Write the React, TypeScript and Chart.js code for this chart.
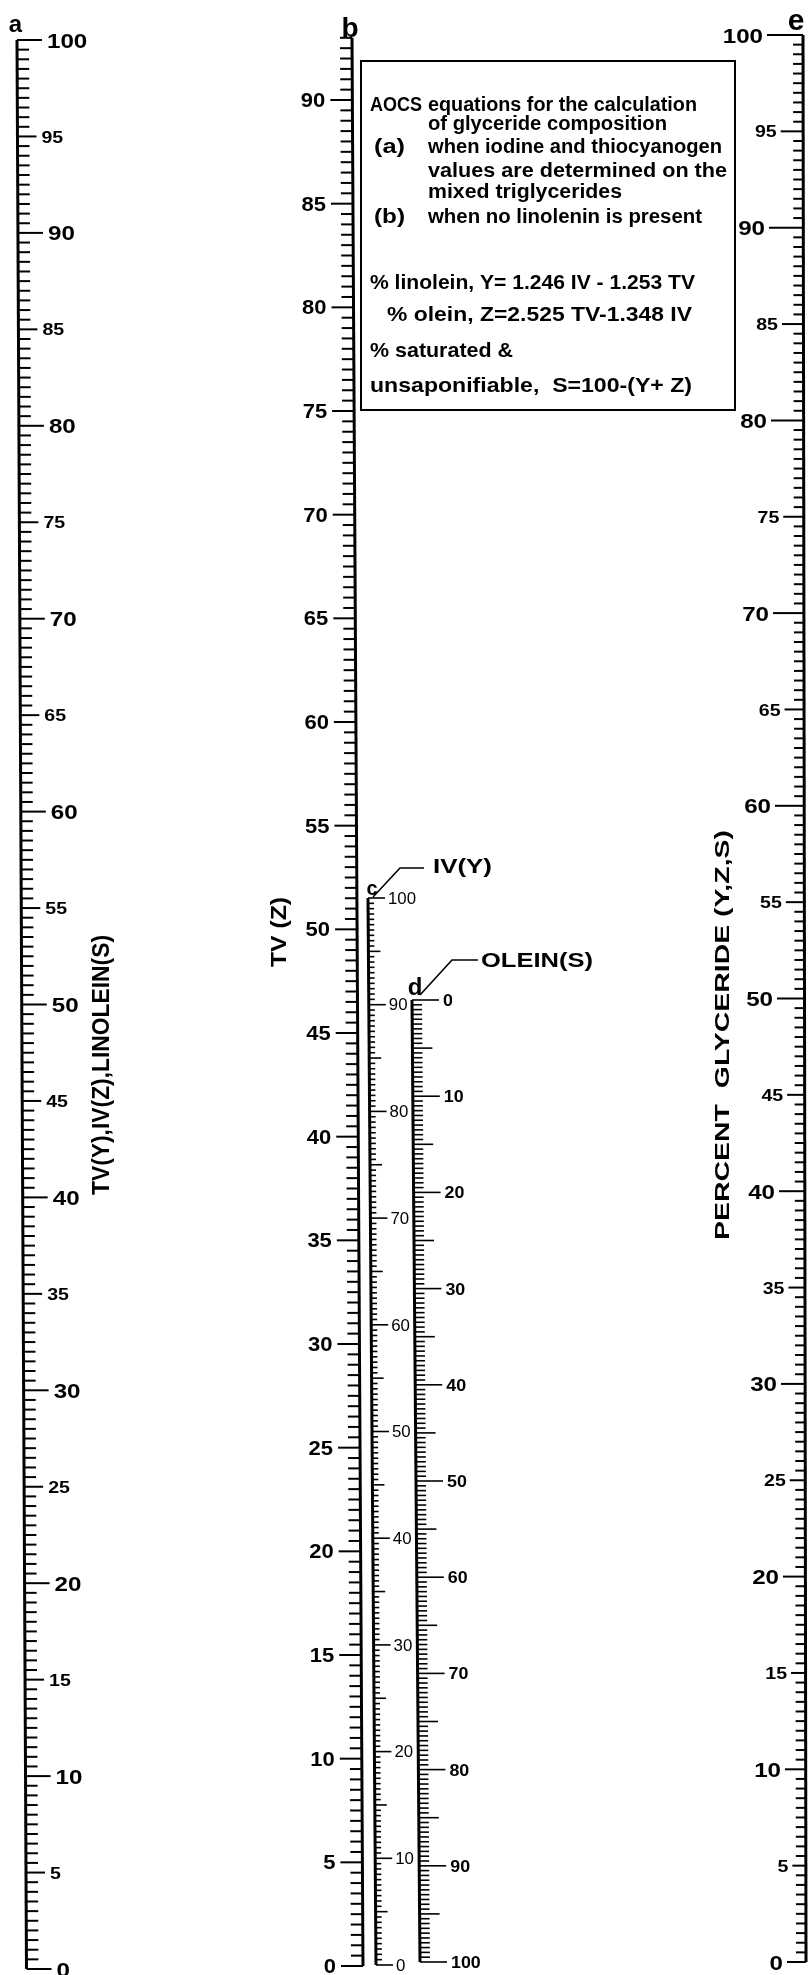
import { useEffect, useRef } from "react";
import { Chart, registerables } from "chart.js";

Chart.register(...registerables);

const W = 809;
const H = 1975;
const FONT = "'Liberation Sans', 'DejaVu Sans', sans-serif";

// ---------------- values ----------------
const A_RANGE = [0, 100];
const B_RANGE = [0, 93];
const C_RANGE = [0, 100];
const D_RANGE = [0, 100];
const E_RANGE = [0, 100];
const MINOR_STEP = 0.5;

const A_TICK_LABELS = [0, 5, 10, 15, 20, 25, 30, 35, 40, 45, 50, 55, 60, 65, 70, 75, 80, 85, 90, 95, 100];
const B_TICK_LABELS = [0, 5, 10, 15, 20, 25, 30, 35, 40, 45, 50, 55, 60, 65, 70, 75, 80, 85, 90];
const C_TICK_LABELS = [0, 10, 20, 30, 40, 50, 60, 70, 80, 90, 100];
const D_TICK_LABELS = [0, 10, 20, 30, 40, 50, 60, 70, 80, 90, 100];
const E_TICK_LABELS = [0, 5, 10, 15, 20, 25, 30, 35, 40, 45, 50, 55, 60, 65, 70, 75, 80, 85, 90, 95, 100];

const AXIS_LETTERS = ["a", "b", "c", "d", "e"];
const A_TITLE = "TV(Y),IV(Z),LINOLEIN(S)";
const B_TITLE = "TV (Z)";
const C_TITLE = "IV(Y)";
const D_TITLE = "OLEIN(S)";
const E_TITLE = "PERCENT  GLYCERIDE (Y,Z,S)";

const BOX_LINES = [
  "AOCS",
  "equations for the calculation",
  "of glyceride composition",
  "(a)",
  "when iodine and thiocyanogen",
  "values are determined on the",
  "mixed triglycerides",
  "(b)",
  "when no linolenin is present",
  "% linolein, Y= 1.246 IV - 1.253 TV",
  "% olein, Z=2.525 TV-1.348 IV",
  "% saturated &",
  "unsaponifiable,  S=100-(Y+ Z)",
];

// ---------------- layout (positions / styles) ----------------
type Len = number | [number, number];
interface AxisLayout {
  id: string;
  range: number[];
  labels: number[];
  anchor: [number, number, number, number]; // value0, pixel0, value1, pixel1
  line: [number, number, number, number]; // xTop, yTop, xBot, yBot
  dir: 1 | -1;
  minor: Len;
  five: Len;
  ten: Len;
  gap: number;
  big: number;
  small: number;
  weight: string;
  sx: number;
  lineW: number;
  tickW: number;
}

const AXES: AxisLayout[] = [
  {
    id: "ya", range: A_RANGE, labels: A_TICK_LABELS, anchor: [100, 40, 0, 1969],
    line: [17, 40, 26.5, 1969], dir: 1, minor: 12, five: 19, ten: 25, gap: 5,
    big: 21, small: 17, weight: "bold", sx: 1.15, lineW: 3, tickW: 2,
  },
  {
    id: "yb", range: B_RANGE, labels: B_TICK_LABELS, anchor: [90, 100, 0, 1966],
    line: [352, 40, 363, 1966], dir: -1, minor: 12, five: 22, ten: 22, gap: 5,
    big: 20, small: 20, weight: "bold", sx: 1.1, lineW: 3, tickW: 2,
  },
  {
    id: "yc", range: C_RANGE, labels: C_TICK_LABELS, anchor: [100, 898, 0, 1965],
    line: [368, 898, 376, 1965], dir: 1, minor: 6, five: 12, ten: 17, gap: 3,
    big: 16, small: 16, weight: "normal", sx: 1.05, lineW: 3, tickW: 1.6,
  },
  {
    id: "yd", range: D_RANGE, labels: D_TICK_LABELS, anchor: [0, 1000, 100, 1962],
    line: [412, 1000, 420, 1962], dir: 1, minor: 10, five: 20, ten: 27, gap: 4,
    big: 17, small: 17, weight: "bold", sx: 1.05, lineW: 3, tickW: 1.6,
  },
  {
    id: "ye", range: E_RANGE, labels: E_TICK_LABELS, anchor: [100, 35, 0, 1962],
    line: [803, 35, 806, 1962], dir: -1, minor: 10, five: [23, 13], ten: [36, 19], gap: 4,
    big: 21, small: 17, weight: "bold", sx: 1.15, lineW: 3, tickW: 2,
  },
];

// x, baseline, width, font size, weight
const BOX_LAYOUT: [number, number, number, number, string][] = [
  [370, 111, 52, 21, "bold"],
  [428, 111, 269, 20, "bold"],
  [428, 130, 239, 20, "bold"],
  [374, 153, 31, 20, "bold"],
  [428, 153, 294, 20, "bold"],
  [428, 177, 299, 20, "bold"],
  [428, 198, 194, 20, "bold"],
  [374, 223, 31, 20, "bold"],
  [428, 223, 274, 20, "bold"],
  [370, 289, 325, 21, "bold"],
  [387, 321, 305, 21, "bold"],
  [370, 357, 143, 21, "bold"],
  [370, 392, 322, 21, "bold"],
];
const BOX_RECT = [361, 61, 735, 410];

// letter: x center, baseline, size
const LETTER_LAYOUT: [number, number, number][] = [
  [15.5, 32, 24],
  [350, 37, 28],
  [372, 895, 20],
  [415, 995, 24],
  [796, 30, 30],
];

function lenAt(l: Len, t: number): number {
  if (typeof l === "number") return l;
  return l[0] + (l[1] - l[0]) * t;
}

function valueToPixel(ax: AxisLayout, v: number): number {
  const [v0, p0, v1, p1] = ax.anchor;
  return p0 + ((v - v0) * (p1 - p0)) / (v1 - v0);
}

function xOnLine(ax: AxisLayout, py: number): [number, number] {
  const [xt, yt, xb, yb] = ax.line;
  const t = (py - yt) / (yb - yt);
  return [xt + (xb - xt) * t, t];
}

function drawText(
  ctx: CanvasRenderingContext2D, text: string, x: number, baseline: number,
  size: number, weight: string, align: CanvasTextAlign, sx = 1
) {
  ctx.save();
  ctx.font = `${weight} ${size}px ${FONT}`;
  ctx.textAlign = align;
  ctx.textBaseline = "alphabetic";
  ctx.translate(x, baseline);
  ctx.scale(sx, 1);
  ctx.fillText(text, 0, 0);
  ctx.restore();
}

function drawFit(
  ctx: CanvasRenderingContext2D, text: string, x: number, baseline: number,
  width: number, size: number, weight: string, align: CanvasTextAlign = "left"
) {
  ctx.save();
  ctx.font = `${weight} ${size}px ${FONT}`;
  const m = ctx.measureText(text).width;
  ctx.restore();
  drawText(ctx, text, x, baseline, size, weight, align, width / m);
}

function drawRotated(
  ctx: CanvasRenderingContext2D, text: string, cx: number, cy: number,
  length: number, size: number
) {
  ctx.save();
  ctx.translate(cx, cy);
  ctx.rotate(-Math.PI / 2);
  ctx.font = `bold ${size}px ${FONT}`;
  const m = ctx.measureText(text).width;
  ctx.scale(length / m, 1);
  ctx.textAlign = "center";
  ctx.textBaseline = "middle";
  ctx.fillText(text, 0, 0);
  ctx.restore();
}

const nomogramPlugin = {
  id: "nomogram",
  afterDatasetsDraw(chart: any) {
    const ctx: CanvasRenderingContext2D = chart.ctx;
    ctx.save();
    ctx.fillStyle = "#000";
    ctx.strokeStyle = "#000";
    ctx.lineCap = "butt";

    for (const ax of AXES) {
      const scale = chart.scales[ax.id];
      const n0 = Math.round(ax.range[0] / MINOR_STEP);
      const n1 = Math.round(ax.range[1] / MINOR_STEP);
      ctx.lineWidth = ax.tickW;
      for (let i = n0; i <= n1; i++) {
        const v = i * MINOR_STEP;
        const py = scale.getPixelForValue(v);
        const [px, t] = xOnLine(ax, py);
        const kind = v % 10 === 0 ? ax.ten : v % 5 === 0 ? ax.five : ax.minor;
        const len = lenAt(kind, t);
        ctx.beginPath();
        ctx.moveTo(px, py);
        ctx.lineTo(px + ax.dir * len, py);
        ctx.stroke();
      }
      for (const v of ax.labels) {
        const py = scale.getPixelForValue(v);
        const [px, t] = xOnLine(ax, py);
        const kind = v % 10 === 0 ? ax.ten : v % 5 === 0 ? ax.five : ax.minor;
        const len = lenAt(kind, t);
        const size = v % 10 === 0 ? ax.big : ax.small;
        const lx = px + ax.dir * (len + ax.gap);
        drawText(ctx, String(v), lx, py + 0.358 * size, size, ax.weight,
          ax.dir > 0 ? "left" : "right", ax.sx);
      }
    }

    // axis letters
    AXIS_LETTERS.forEach((l, i) => {
      const [x, b, s] = LETTER_LAYOUT[i];
      drawText(ctx, l, x, b, s, "bold", "center");
    });

    // axis titles
    drawRotated(ctx, A_TITLE, 103, 1065, 260, 23);
    drawRotated(ctx, B_TITLE, 280, 932, 70, 22);
    drawRotated(ctx, E_TITLE, 723, 1035, 410, 21);

    // leader lines for c and d
    ctx.lineWidth = 1.6;
    ctx.beginPath();
    ctx.moveTo(373, 897); ctx.lineTo(400, 868); ctx.lineTo(424, 868);
    ctx.moveTo(420, 995); ctx.lineTo(452, 960); ctx.lineTo(478, 960);
    ctx.stroke();
    drawFit(ctx, C_TITLE, 433, 873, 59, 21, "bold");
    drawFit(ctx, D_TITLE, 481, 967, 112, 20, "bold");

    // equation box
    ctx.lineWidth = 2;
    ctx.strokeRect(BOX_RECT[0], BOX_RECT[1], BOX_RECT[2] - BOX_RECT[0], BOX_RECT[3] - BOX_RECT[1]);
    BOX_LINES.forEach((line, i) => {
      const [x, b, w, s, wt] = BOX_LAYOUT[i];
      drawFit(ctx, line, x, b, w, s, wt);
    });

    ctx.restore();
  },
};

function buildScales() {
  const scales: any = {
    x: { type: "linear", display: false, min: 0, max: W, bounds: "data" },
  };
  for (const ax of AXES) {
    const [v0, p0, v1, p1] = ax.anchor;
    const s = (v1 - v0) / (p1 - p0);
    const vTop = v0 - p0 * s;
    const vBot = v0 + (H - p0) * s;
    if (vTop > vBot) {
      scales[ax.id] = { type: "linear", display: false, min: vBot, max: vTop, bounds: "data" };
    } else {
      scales[ax.id] = { type: "linear", display: false, min: vTop, max: vBot, reverse: true, bounds: "data" };
    }
  }
  return scales;
}

function buildDatasets() {
  return AXES.map((ax) => {
    const vHi = ax.range[1];
    const vLo = ax.range[0];
    const pHi = valueToPixel(ax, vHi);
    const pLo = valueToPixel(ax, vLo);
    return {
      label: ax.id,
      yAxisID: ax.id,
      xAxisID: "x",
      showLine: true,
      borderColor: "#000",
      borderWidth: ax.lineW,
      pointRadius: 0,
      fill: false,
      data: [
        { x: xOnLine(ax, pHi)[0], y: vHi },
        { x: xOnLine(ax, pLo)[0], y: vLo },
      ],
    };
  });
}

export default function App() {
  const ref = useRef<HTMLCanvasElement>(null);
  useEffect(() => {
    const canvas = ref.current;
    if (!canvas) return;
    const chart = new Chart(canvas, {
      type: "scatter",
      data: { datasets: buildDatasets() as any },
      options: {
        responsive: false,
        animation: false,
        devicePixelRatio: 1,
        events: [],
        layout: { padding: 0 },
        plugins: { legend: { display: false }, tooltip: { enabled: false }, title: { display: false } },
        scales: buildScales(),
      } as any,
      plugins: [nomogramPlugin],
    });
    return () => chart.destroy();
  }, []);
  return (
    <div style={{ position: "absolute", left: 0, top: 0, width: W, height: H, background: "#fff" }}>
      <canvas ref={ref} width={W} height={H} style={{ display: "block", width: W, height: H }} />
    </div>
  );
}
